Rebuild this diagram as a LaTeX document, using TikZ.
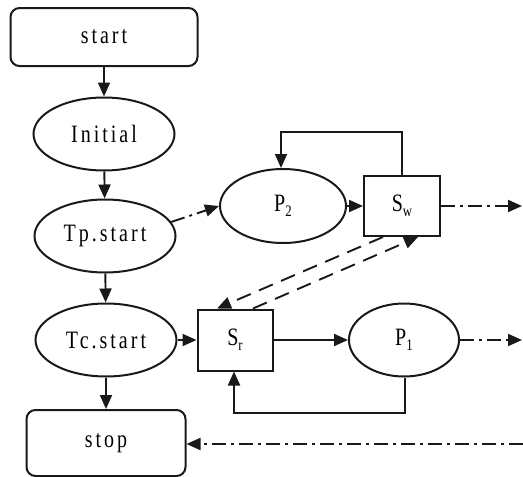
\documentclass[tikz,border=0pt]{standalone}
\usepackage{fontspec}
\setmainfont{Liberation Serif}[LetterSpace=12,FakeStretch=0.8]
\usetikzlibrary{shapes.geometric,arrows.meta}
\newcommand{\subs}[1]{\raisebox{-0.45ex}{\fontsize{16}{16}\selectfont #1}}
\begin{document}
\begin{tikzpicture}[x=1pt,y=-1pt,
  every node/.style={font=\fontsize{25}{25}\selectfont, line width=2pt, draw=black!90, inner sep=0pt},
  term/.style={rectangle, rounded corners=9pt, minimum width=187pt, minimum height=58pt},
  oval/.style={ellipse, minimum width=141pt, minimum height=73pt},
  box/.style={rectangle, minimum width=76pt, minimum height=60pt},
  conn/.style={line width=1.9pt, draw=black!90, -{Triangle[length=14pt,width=12pt]}},
  dd/.style={conn, dash pattern=on 14pt off 5pt on 3pt off 5pt},
  dsh/.style={conn, dash pattern=on 15pt off 9pt}]
\useasboundingbox (0,0) rectangle (523,477);
\node[term] (start) at (104,37) {start};
\node[oval] (init) at (104,134) {Initial};
\node[oval] (tp) at (105,236) {Tp.start};
\node[oval] (tc) at (106,340) {Tc.start};
\node[term, minimum width=159pt, minimum height=66pt] (stop) at (106,443) {stop};
\node[oval, minimum width=126pt, minimum height=74pt] (p2) at (283,206) {P\subs{2}};
\node[box] (sw) at (402,206) {S\subs{w}};
\node[box, minimum width=75pt, minimum height=61pt] (sr) at (235,340) {S\subs{r}};
\node[oval, minimum width=110pt, minimum height=73pt] (p1) at (404,340) {P\subs{1}};
\coordinate (e1) at (522,206);
\coordinate (e2) at (522,340);
\coordinate (e3) at (523,444);
\coordinate (l1) at (402,132);
\coordinate (l2) at (281,132);
\coordinate (l3) at (405,413);
\coordinate (l4) at (234,413);
\draw[conn] (start) -- (init);
\draw[conn] (init) -- (tp);
\draw[conn] (tp) -- (tc);
\draw[conn] (tc.south) -- (stop.north -| tc.south);
\draw[dd] (tp.12) -- (p2.west);
\draw[conn] (p2) -- (sw);
\draw[conn] (sw.north) |- (l2) -- (p2.north -| l2);
\draw[dd] (sw.east) -- (e1);
\draw[conn] (tc) -- (sr);
\draw[conn] (sr) -- (p1);
\draw[dd] (p1.east) -- (e2);
\draw[conn] (p1.south -| l3) -- (l3) -| (sr.south -| l4);
\draw[dd] (e3) -- (stop.east |- e3);
\draw[dsh] ([xshift=-19pt]sw.south) -- ([xshift=-18pt]sr.north);
\draw[dsh] ([xshift=18pt]sr.north) -- ([xshift=16pt]sw.south);
\end{tikzpicture}
\end{document}
